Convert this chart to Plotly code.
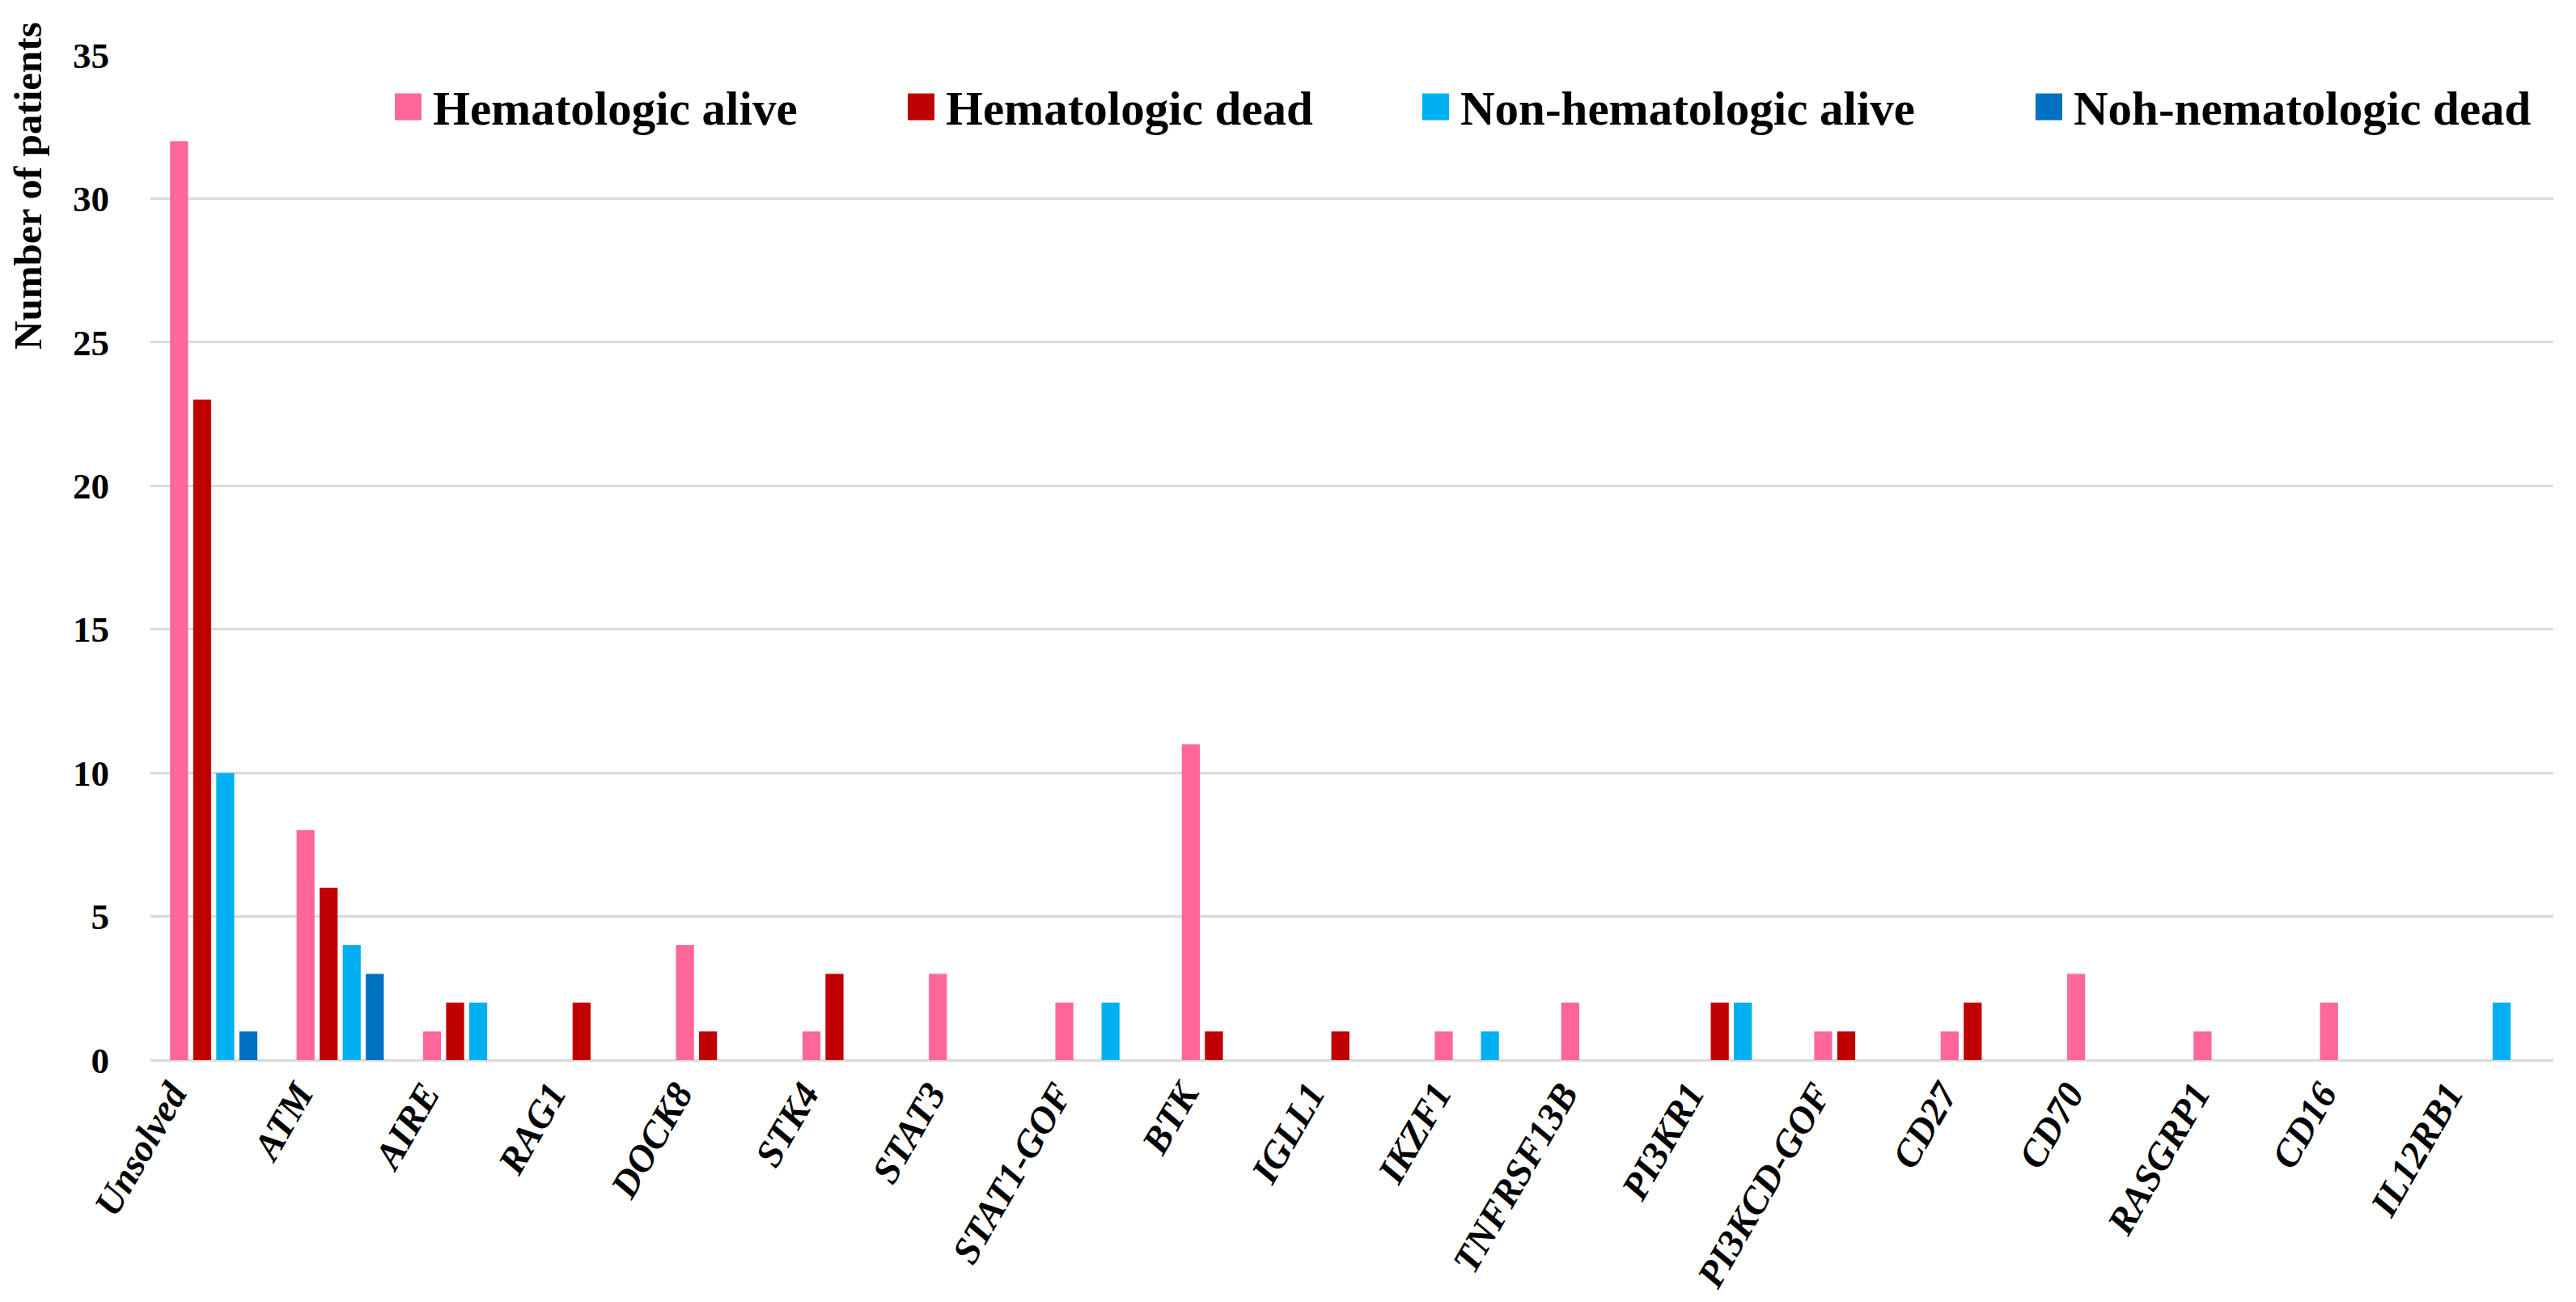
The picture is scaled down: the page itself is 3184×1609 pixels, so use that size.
import plotly.graph_objects as go

categories = ["Unsolved", "ATM", "AIRE", "RAG1", "DOCK8", "STK4", "STAT3", "STAT1-GOF",
              "BTK", "IGLL1", "IKZF1", "TNFRSF13B", "PI3KR1", "PI3KCD-GOF", "CD27",
              "CD70", "RASGRP1", "CD16", "IL12RB1"]

hema_alive = [32, 8, 1, 0, 4, 1, 3, 2, 11, 0, 1, 2, 0, 1, 1, 3, 1, 2, 0]
hema_dead = [23, 6, 2, 2, 1, 3, 0, 0, 1, 1, 0, 0, 2, 1, 2, 0, 0, 0, 0]
nonhema_alive = [10, 4, 2, 0, 0, 0, 0, 2, 0, 0, 1, 0, 2, 0, 0, 0, 0, 0, 2]
nonhema_dead = [1, 3, 0, 0, 0, 0, 0, 0, 0, 0, 0, 0, 0, 0, 0, 0, 0, 0, 0]

series_names = ["Hematologic alive", "Hematologic dead", "Non-hematologic alive", "Noh-nematologic dead"]
series_values = [hema_alive, hema_dead, nonhema_alive, nonhema_dead]
series_colors = ["#FF6699", "#C00000", "#00B0F0", "#0070C0"]

y_ticks = [0, 5, 10, 15, 20, 25, 30, 35]
y_title = "Number of patients"

W, H = 3184, 1609
ML, MR, MT, MB = 178, 36, 60, 307
PW, PH = W - ML - MR, H - MT - MB


def px_x(px):
    return (px - ML) / PW


def px_y(py):
    return (H - MB - py) / PH


SERIF = "Liberation Serif"

fig = go.Figure()
for name, vals, col in zip(series_names, series_values, series_colors):
    fig.add_trace(go.Bar(x=categories, y=vals, name=name, marker_color=col,
                         marker_line_width=0, showlegend=False))

fig.update_layout(
    width=W, height=H,
    margin=dict(l=ML, r=MR, t=MT, b=MB),
    paper_bgcolor="white", plot_bgcolor="white",
    barmode="group", bargap=0.27, bargroupgap=0.22,
    font=dict(family=SERIF, color="black"),
)

fig.update_yaxes(
    range=[0, 35], tickvals=y_ticks, showgrid=True, gridcolor="#D9D9D9", gridwidth=3,
    zeroline=True, zerolinecolor="#D9D9D9", zerolinewidth=3, showline=False,
    tickfont=dict(family=SERIF, size=45, color="black", weight="bold"),
    ticklabelstandoff=50,
)
fig.update_xaxes(
    showgrid=False, showline=False, tickangle=-60,
    tickfont=dict(family=SERIF, size=47, color="black", style="italic", weight="bold"),
    ticklabelstandoff=4, ticklabelshift=-52,
)

# y title near top-left, rotated
fig.add_annotation(text=y_title, xref="paper", yref="paper", x=px_x(26), y=px_y(222),
                   xanchor="center", yanchor="middle", textangle=-90, showarrow=False,
                   font=dict(family=SERIF, size=49, color="black", weight="bold"))

# legend (swatches + labels)
swatch_left = [480, 1114, 1750, 2508]
sw = 33
legend_cy = 124
for name, col, sx in zip(series_names, series_colors, swatch_left):
    fig.add_shape(type="rect", xref="paper", yref="paper",
                  x0=px_x(sx), x1=px_x(sx + sw), y0=px_y(legend_cy + sw / 2), y1=px_y(legend_cy - sw / 2),
                  fillcolor=col, line_width=0)
    fig.add_annotation(text=name, xref="paper", yref="paper", x=px_x(sx + sw + 12), y=px_y(legend_cy + 2),
                       xanchor="left", yanchor="middle", showarrow=False,
                       font=dict(family=SERIF, size=59, color="black", weight="bold"))

fig.write_html("out.html")
